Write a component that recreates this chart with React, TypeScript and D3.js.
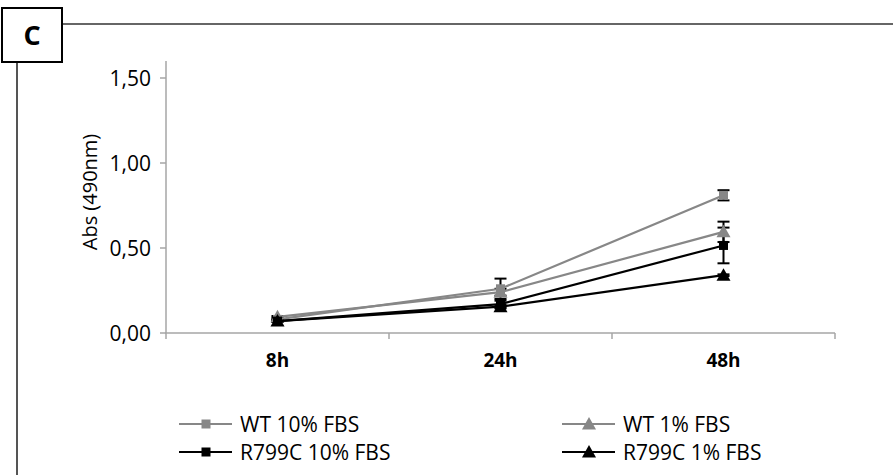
import React from "react";
import * as d3 from "d3";

const categories = ["8h", "24h", "48h"];
const yTicks = [0, 0.5, 1.0, 1.5];
const seriesNames = ["WT 10% FBS", "WT 1% FBS", "R799C 10% FBS", "R799C 1% FBS"];
const wt10 = [0.08, 0.26, 0.81];
const wt10Err = [0.005, 0.06, 0.03];
const wt1 = [0.095, 0.24, 0.595];
const wt1Err = [0.005, 0.02, 0.06];
const r10 = [0.07, 0.17, 0.515];
const r10Err = [0.005, 0.02, 0.105];
const r1 = [0.07, 0.155, 0.34];
const r1Err = [0.005, 0.01, 0.005];

const GRAY = "#878787";
const FONT = "'Open Sans', sans-serif";

const series = [
  { name: seriesNames[0], values: wt10, err: wt10Err, color: GRAY, marker: "square" },
  { name: seriesNames[1], values: wt1, err: wt1Err, color: GRAY, marker: "triangle" },
  { name: seriesNames[2], values: r10, err: r10Err, color: "#000", marker: "square" },
  { name: seriesNames[3], values: r1, err: r1Err, color: "#000", marker: "triangle" },
];

function Marker({ type, x, y, color }: { type: string; x: number; y: number; color: string }) {
  if (type === "square") {
    return <rect x={x - 4.5} y={y - 4.5} width={9} height={9} fill={color} />;
  }
  const p = `${x},${y - 7} ${x + 7},${y + 5.5} ${x - 7},${y + 5.5}`;
  return <polygon points={p} fill={color} />;
}

export default function App() {
  const W = 893, H = 475;
  const x0 = 166, x1 = 835, yBase = 333;
  const y = d3.scaleLinear().domain([0, 1.6]).range([yBase, yBase - 1.6 * 170]);
  const xb = d3.scaleBand().domain(categories).range([x0, x1]);
  const cx = (c: string) => (xb(c) as number) + xb.bandwidth() / 2;
  const line = d3
    .line<number>()
    .x((_, i) => cx(categories[i]))
    .y((d) => y(d));
  const fmt = (v: number) => v.toFixed(2).replace(".", ",");
  const boundaries = [...categories.map((c) => xb(c) as number), x1];
  const legendPos = [
    { x: 179, y: 424 },
    { x: 562, y: 424 },
    { x: 179, y: 452 },
    { x: 562, y: 452 },
  ];

  return (
    <svg width={W} height={H} style={{ position: "absolute", left: 0, top: 0, background: "#fff" }}>
      <rect width={W} height={H} fill="#fff" />
      {/* frame */}
      <line x1={62} y1={24} x2={W} y2={24} stroke="#666" strokeWidth={2} />
      <line x1={17} y1={62} x2={17} y2={H} stroke="#555" strokeWidth={2} />
      <rect x={2} y={8} width={60} height={54} fill="#fff" stroke="#000" strokeWidth={2} />
      <text x={32} y={45} textAnchor="middle" fontFamily={FONT} fontWeight="bold" fontSize={27} fill="#000">C</text>

      {/* axes */}
      <line x1={x0} y1={y(1.6)} x2={x0} y2={yBase} stroke="#a6a6a6" strokeWidth={1.5} />
      <line x1={x0 - 1} y1={yBase} x2={x1} y2={yBase} stroke="#a6a6a6" strokeWidth={1.5} />
      {yTicks.map((t) => (
        <g key={t}>
          <line x1={x0 - 6} x2={x0} y1={y(t)} y2={y(t)} stroke="#a6a6a6" strokeWidth={1.5} />
          <text x={151} y={y(t)} dy="0.36em" textAnchor="end" fontFamily={FONT} fontSize={21} fill="#000">{fmt(t)}</text>
        </g>
      ))}
      {boundaries.map((b, i) => (
        <line key={i} x1={b} x2={b} y1={yBase} y2={yBase + 6} stroke="#a6a6a6" strokeWidth={1.5} />
      ))}
      {categories.map((c) => (
        <text key={c} x={cx(c)} y={367} textAnchor="middle" fontFamily={FONT} fontWeight="bold" fontSize={19} fill="#000">{c}</text>
      ))}
      <text transform={`translate(97,192) rotate(-90)`} textAnchor="middle" fontFamily={FONT} fontSize={20} fill="#000">Abs (490nm)</text>

      {/* error bars */}
      {series.map((s) => (
        <g key={s.name + "-err"}>
          {s.values.map((v, i) => {
            const px = cx(categories[i]);
            const e = s.err[i];
            return (
              <g key={i}>
                <line x1={px} x2={px} y1={y(v - e)} y2={y(v + e)} stroke="#000" strokeWidth={2} />
                <line x1={px - 6} x2={px + 6} y1={y(v - e)} y2={y(v - e)} stroke="#000" strokeWidth={2} />
                <line x1={px - 6} x2={px + 6} y1={y(v + e)} y2={y(v + e)} stroke="#000" strokeWidth={2} />
              </g>
            );
          })}
        </g>
      ))}

      {/* series */}
      {series.map((s) => (
        <g key={s.name}>
          <path d={line(s.values) || ""} fill="none" stroke={s.color} strokeWidth={2.2} />
          {s.values.map((v, i) => (
            <Marker key={i} type={s.marker} x={cx(categories[i])} y={y(v)} color={s.color} />
          ))}
        </g>
      ))}

      {/* legend */}
      {series.map((s, i) => {
        const p = legendPos[i];
        return (
          <g key={s.name}>
            <line x1={p.x} x2={p.x + 53} y1={p.y} y2={p.y} stroke={s.color} strokeWidth={2.2} />
            <Marker type={s.marker} x={p.x + 27} y={p.y} color={s.color} />
            <text x={p.x + 61} y={p.y} dy="0.36em" fontFamily={FONT} fontSize={21} fill="#000">{s.name}</text>
          </g>
        );
      })}
    </svg>
  );
}
